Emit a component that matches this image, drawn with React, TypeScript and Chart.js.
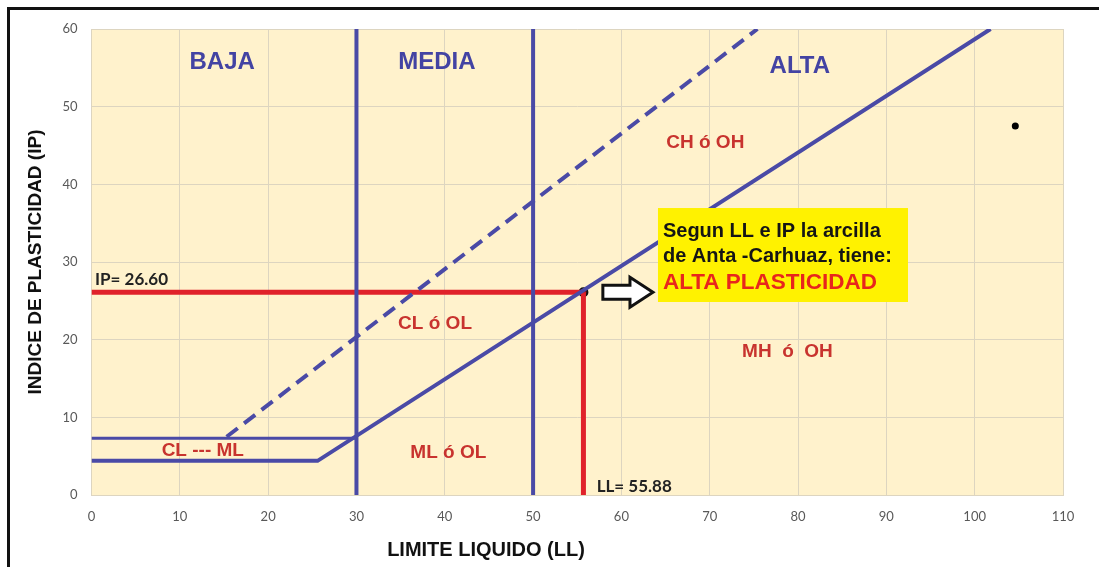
import React, { useEffect, useRef } from "react";
import { Chart, registerables } from "chart.js";

Chart.register(...registerables);

const W = 1099;
const H = 567;

// Axis ranges
const LL_MIN = 0;
const LL_MAX = 110;
const IP_MIN = 0;
const IP_MAX = 60;
const TICK_STEP = 10;

// Casagrande chart lines (LL, IP)
const aLineLL = [0, 25.6, 101.8];
const aLineIP = [4.4, 4.4, 60];
const clmlTopLL = [0, 30];
const clmlTopIP = [7.3, 7.3];
const uLineLL = [15.3, 75.4];
const uLineIP = [7.5, 60];
const boundaryLL = [30, 50];
const boundaryIP = [0, 60];

// Sample (Anta - Carhuaz)
const sampleLL = 55.7;
const sampleIP = 26.1;
const sampleLLText = "LL= 55.88";
const sampleIPText = "IP= 26.60";

// Extra isolated point
const extraLL = [104.6];
const extraIP = [47.5];

// Plasticity band labels
const bandNames = ["BAJA", "MEDIA", "ALTA"];
const bandLL = [14.8, 39.1, 80.2];
const bandIP = [55.7, 55.7, 55.2];

// Zone labels
const zoneNames = ["CH ó OH", "CL ó OL", "MH  ó  OH", "ML ó OL", "CL --- ML"];
const zoneLL = [69.5, 38.9, 78.8, 40.4, 12.6];
const zoneIP = [45.4, 22.0, 18.4, 5.5, 5.7];

// Callout
const calloutLines = ["Segun LL e IP la arcilla", "de Anta -Carhuaz, tiene:", "ALTA PLASTICIDAD"];

const BLUE = "#4a4aa6";
const RED_LINE = "#e0222a";
const ZONE_RED = "#c8332e";
const GRID = "#ddd5c0";
const PLOT_BG = "#fff2cc";

const pts = (xs: number[], ys: number[]) => xs.map((x, i) => ({ x, y: ys[i] }));

const decorPlugin = {
  id: "decor",
  beforeDraw(chart: any) {
    const { ctx, chartArea } = chart;
    ctx.save();
    ctx.fillStyle = "#ffffff";
    ctx.fillRect(0, 0, W, H);
    ctx.fillStyle = PLOT_BG;
    ctx.fillRect(chartArea.left, chartArea.top, chartArea.right - chartArea.left, chartArea.bottom - chartArea.top);
    // outer frame
    ctx.strokeStyle = "#111111";
    ctx.lineWidth = 3;
    ctx.beginPath();
    ctx.moveTo(8.5, H + 2);
    ctx.lineTo(8.5, 8.5);
    ctx.lineTo(W + 2, 8.5);
    ctx.stroke();
    ctx.restore();
  },
  afterDatasetsDraw(chart: any) {
    const { ctx } = chart;
    const xs = chart.scales.x;
    const ys = chart.scales.y;
    const px = (v: number) => xs.getPixelForValue(v);
    const py = (v: number) => ys.getPixelForValue(v);
    ctx.save();
    ctx.textAlign = "center";
    ctx.textBaseline = "middle";
    // band labels
    ctx.fillStyle = "#4343a3";
    ctx.font = "bold 24px 'Liberation Sans', Arial, sans-serif";
    bandNames.forEach((t, i) => ctx.fillText(t, px(bandLL[i]), py(bandIP[i])));
    // zone labels
    ctx.fillStyle = ZONE_RED;
    ctx.font = "bold 19px 'Liberation Sans', Arial, sans-serif";
    zoneNames.forEach((t, i) => ctx.fillText(t, px(zoneLL[i]), py(zoneIP[i])));

    // value labels
    ctx.fillStyle = "#222222";
    ctx.font = "bold 17px Lato, 'Liberation Sans', sans-serif";
    ctx.textAlign = "left";
    ctx.fillText(sampleIPText, px(0.4), py(27.8));
    ctx.fillText(sampleLLText, px(57.2), py(1.05));

    // callout box
    const bx0 = px(64.14), bx1 = px(92.45), by0 = py(36.95), by1 = py(24.85);
    ctx.fillStyle = "#fff200";
    ctx.fillRect(bx0, by0, bx1 - bx0, by1 - by0);
    ctx.textBaseline = "alphabetic";
    ctx.fillStyle = "#151515";
    ctx.font = "bold 20px 'Liberation Sans', Arial, sans-serif";
    ctx.fillText(calloutLines[0], px(64.7), py(33.2));
    ctx.fillText(calloutLines[1], px(64.7), py(30.0));
    ctx.fillStyle = "#e8261c";
    ctx.font = "bold 22.5px 'Liberation Sans', Arial, sans-serif";
    ctx.fillText(calloutLines[2], px(64.7), py(26.5));

    // arrow
    const x0 = px(57.9), x1 = px(60.97), x2 = px(63.57), cy = py(sampleIP);
    ctx.beginPath();
    ctx.moveTo(x0, cy - 7);
    ctx.lineTo(x1, cy - 7);
    ctx.lineTo(x1, cy - 15);
    ctx.lineTo(x2, cy);
    ctx.lineTo(x1, cy + 15);
    ctx.lineTo(x1, cy + 7);
    ctx.lineTo(x0, cy + 7);
    ctx.closePath();
    ctx.fillStyle = "#ffffff";
    ctx.fill();
    ctx.lineWidth = 3;
    ctx.lineJoin = "miter";
    ctx.strokeStyle = "#111111";
    ctx.stroke();

    // axis titles
    ctx.fillStyle = "#111111";
    ctx.textAlign = "center";
    ctx.textBaseline = "middle";
    ctx.font = "bold 20px 'Liberation Sans', Arial, sans-serif";
    ctx.fillText("LIMITE LIQUIDO (LL)", 486, 550);
    ctx.translate(36, 262);
    ctx.rotate(-Math.PI / 2);
    ctx.font = "bold 19px 'Liberation Sans', Arial, sans-serif";
    ctx.fillText("INDICE DE PLASTICIDAD (IP)", 0, 0);
    ctx.restore();
  },
};

export default function App() {
  const ref = useRef<HTMLCanvasElement>(null);
  useEffect(() => {
    document.body.style.margin = "0";
    const line = (xs: number[], ys: number[], color: string, width: number, dash: number[] = []) => ({
      data: pts(xs, ys),
      showLine: true,
      borderColor: color,
      backgroundColor: color,
      borderWidth: width,
      borderDash: dash,
      pointRadius: 0,
      borderCapStyle: "butt" as const,
    });
    const chart = new Chart(ref.current as HTMLCanvasElement, {
      type: "scatter",
      data: {
        datasets: [
          line(clmlTopLL, clmlTopIP, BLUE, 3),
          line(aLineLL, aLineIP, BLUE, 4),
          line(uLineLL, uLineIP, BLUE, 4, [14, 8]),
          ...boundaryLL.map((v) => line([v, v], boundaryIP, BLUE, 4)),
          line([0, sampleLL], [sampleIP, sampleIP], RED_LINE, 5),
          line([sampleLL, sampleLL], [sampleIP, 0], RED_LINE, 5),
          {
            data: pts([sampleLL], [sampleIP]),
            pointRadius: 4,
            pointBackgroundColor: "#8a1818",
            pointBorderColor: "#111111",
            pointBorderWidth: 2,
            showLine: false,
          },
          {
            data: pts(extraLL, extraIP),
            pointRadius: 3.5,
            pointBackgroundColor: "#000000",
            pointBorderColor: "#000000",
            pointBorderWidth: 0,
            showLine: false,
          },
        ],
      },
      options: {
        animation: false,
        responsive: false,
        devicePixelRatio: 1,
        layout: { padding: { left: 0, top: 29, right: 36, bottom: 0 } },
        plugins: { legend: { display: false }, tooltip: { enabled: false } },
        scales: {
          x: {
            type: "linear",
            min: LL_MIN,
            max: LL_MAX,
            ticks: { stepSize: TICK_STEP, color: "#595959", padding: 14, font: { family: "Lato", size: 13 } },
            grid: { color: GRID, drawTicks: false },
            border: { color: GRID },
            afterFit: (s: any) => {
              s.height = 72;
            },
          },
          y: {
            type: "linear",
            min: IP_MIN,
            max: IP_MAX,
            ticks: { stepSize: TICK_STEP, color: "#595959", padding: 14, font: { family: "Lato", size: 13 } },
            grid: { color: GRID, drawTicks: false },
            border: { color: GRID },
            afterFit: (s: any) => {
              s.width = 91.5;
            },
          },
        },
      },
      plugins: [decorPlugin],
    });
    return () => chart.destroy();
  }, []);
  return (
    <div style={{ position: "absolute", left: 0, top: 0, width: W, height: H }}>
      <canvas ref={ref} width={W} height={H} style={{ display: "block", width: W, height: H }} />
    </div>
  );
}
